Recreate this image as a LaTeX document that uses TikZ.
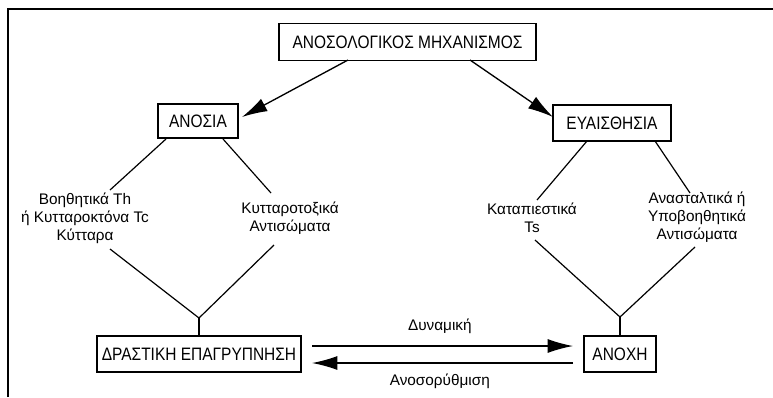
\documentclass[tikz,border=0pt]{standalone}
\usepackage{fontspec}
\setmainfont{Liberation Sans}
\newfontfamily\capsfont[FakeStretch=0.86]{Liberation Sans}
\usetikzlibrary{arrows.meta}
\tikzset{
  box/.style={draw, line width=1pt, inner sep=0pt, font=\capsfont\fontsize{13.5}{15}\selectfont},
  lbl/.style={align=center, inner sep=0pt, font=\fontsize{11.5}{13.5}\selectfont},
  ln/.style={line width=0.9pt},
  arr/.style={line width=1pt, -{Latex[length=19pt,width=10.5pt]}}
}
\begin{document}
\begin{tikzpicture}[x=0.75pt,y=-0.75pt]
\useasboundingbox (0,0) rectangle (773,397);
\draw[line width=1.7pt] (8,397) -- (8,9) -- (773,9);

\node[box, minimum width=257*0.75pt, minimum height=37*0.75pt] (top) at (407.5,42) {ΑΝΟΣΟΛΟΓΙΚΟΣ ΜΗΧΑΝΙΣΜΟΣ};
\node[box, minimum width=80*0.75pt, minimum height=34*0.75pt] (anosia) at (198,121) {ΑΝΟΣΙΑ};
\node[box, minimum width=118*0.75pt, minimum height=36*0.75pt] (eva) at (612,123) {ΕΥΑΙΣΘΗΣΙΑ};
\node[box, minimum width=204*0.75pt, minimum height=36*0.75pt] (drast) at (199,354) {ΔΡΑΣΤΙΚΗ ΕΠΑΓΡΥΠΝΗΣΗ};
\node[box, minimum width=72*0.75pt, minimum height=36*0.75pt] (anoxh) at (620,354) {ΑΝΟΧΗ};

\node[lbl] (lt) at (85,218) {Βοηθητικά Th\\ή Κυτταροκτόνα Tc\\Κύτταρα};
\node[lbl] (rt) at (290,218) {Κυτταροτοξικά\\Αντισώματα};
\node[lbl] (kt) at (532,218) {Καταπιεστικά\\Ts};
\node[lbl] (at) at (697,217) {Ανασταλτικά ή\\Υποβοηθητικά\\Αντισώματα};

\coordinate (a1) at (166,139);
\coordinate (a2) at (223,139);
\coordinate (lt1) at (110,190);
\coordinate (rt1) at (271,193);
\coordinate (lt2) at (110,249);
\coordinate (rt2) at (274,245);
\coordinate (j1) at (199,318);

\coordinate (e1) at (587,141);
\coordinate (e2) at (655,141);
\coordinate (kt1) at (537,200);
\coordinate (at1) at (690,193);
\coordinate (kt2) at (535,240);
\coordinate (at2) at (695,247);
\coordinate (j2) at (620,317);

\draw[ln] (a1) -- (lt1);
\draw[ln] (a2) -- (rt1);
\draw[ln] (lt2) -- (j1) -- (rt2);
\draw[ln] (j1) -- (drast.north);

\draw[ln] (e1) -- (kt1);
\draw[ln] (e2) -- (at1);
\draw[ln] (kt2) -- (j2) -- (at2);
\draw[ln] (j2) -- (anoxh.north);

\coordinate (t1) at (348,60);
\coordinate (t2) at (470,60);
\coordinate (s1) at (242,117);
\coordinate (s2) at (553,117);
\draw[arr] (t1) -- (s1);
\draw[arr] (t2) -- (s2);

\coordinate (d1) at (312,346);
\coordinate (d2) at (573,346);
\coordinate (u1) at (573,363);
\coordinate (u2) at (312,363);
\draw[arr] (d1) -- node[lbl, above=9pt, xshift=-2pt] (dyn) {Δυναμική} (d2);
\draw[arr] (u1) -- node[lbl, below=8pt, xshift=-2pt] (ano) {Ανοσορύθμιση} (u2);
\end{tikzpicture}
\end{document}
